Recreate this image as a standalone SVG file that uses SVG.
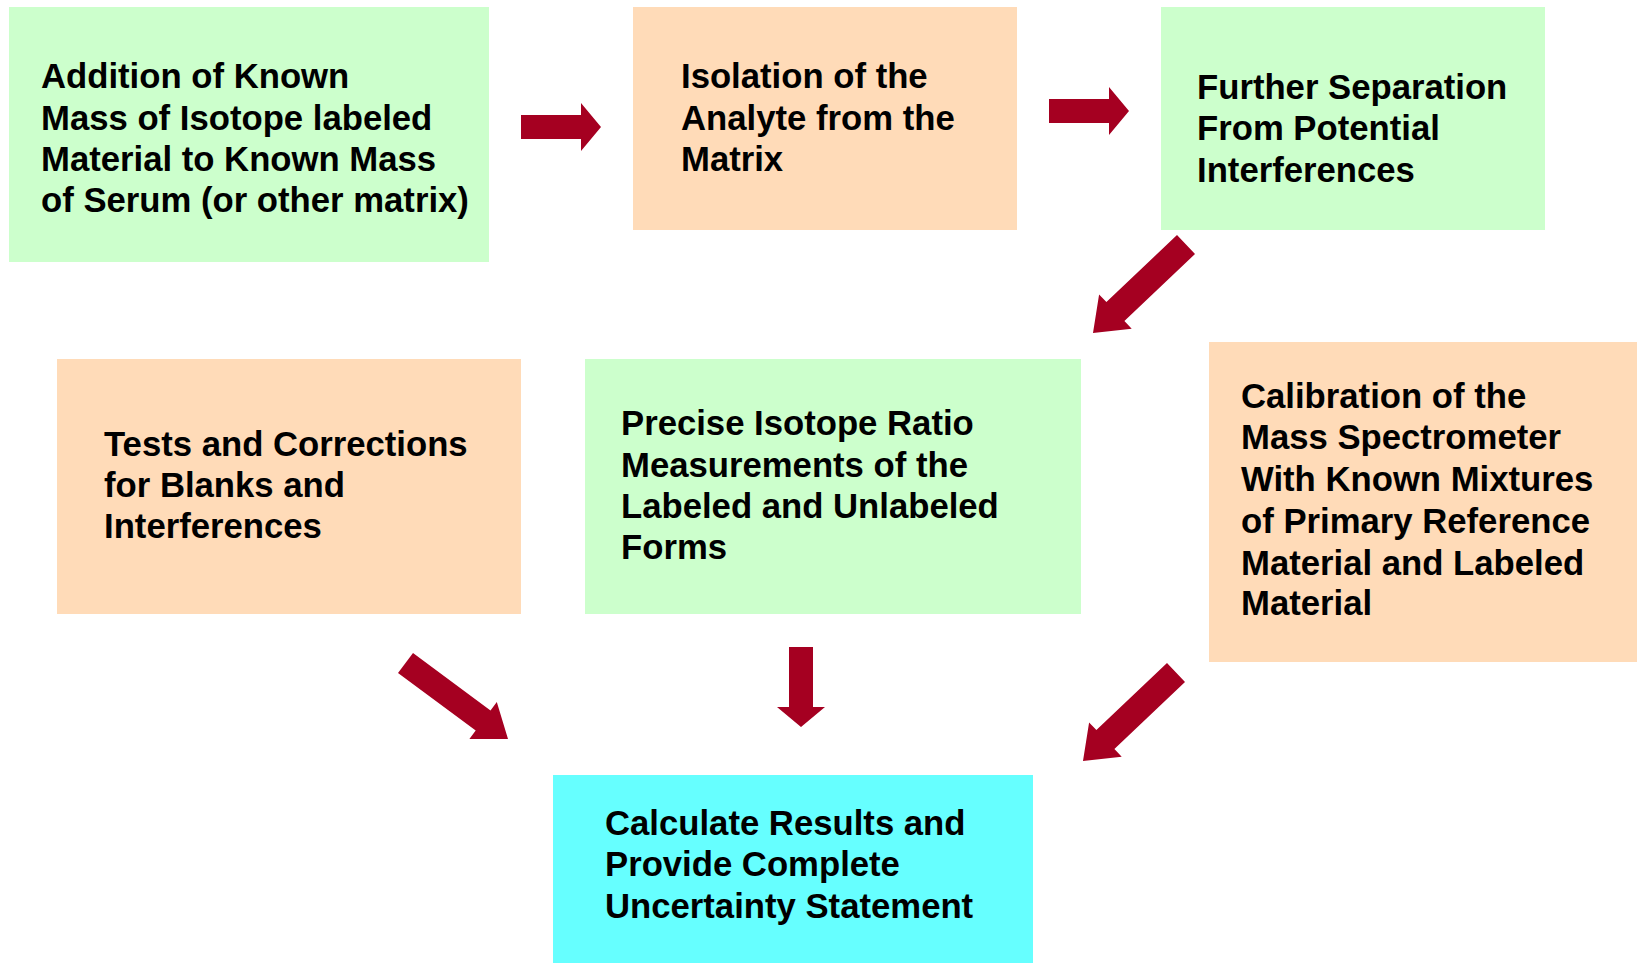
<svg xmlns="http://www.w3.org/2000/svg" width="1637" height="963" viewBox="0 0 1637 963">
<style>
.green{fill:#CCFFCC}
.peach{fill:#FFDBB8}
.cyan{fill:#66FFFF}
.t{font-family:"Liberation Sans",Arial,sans-serif;font-weight:bold;font-size:34.7px;fill:#000}
.arrow{fill:#A50021}
</style>
<rect width="1637" height="963" fill="#FFFFFF"/>
<g id="node-addition">
<rect class="green" x="9" y="7" width="480" height="255"/>
<text class="t"><tspan x="41" y="88">Addition of Known</tspan><tspan x="41" y="130">Mass of Isotope labeled</tspan><tspan x="41" y="171">Material to Known Mass</tspan><tspan x="41" y="212">of Serum (or other matrix)</tspan></text>
</g>
<g id="node-isolation">
<rect class="peach" x="633" y="7" width="384" height="223"/>
<text class="t"><tspan x="681" y="88">Isolation of the</tspan><tspan x="681" y="130">Analyte from the</tspan><tspan x="681" y="171">Matrix</tspan></text>
</g>
<g id="node-separation">
<rect class="green" x="1161" y="7" width="384" height="223"/>
<text class="t"><tspan x="1197" y="99">Further Separation</tspan><tspan x="1197" y="140">From Potential</tspan><tspan x="1197" y="182">Interferences</tspan></text>
</g>
<g id="node-tests">
<rect class="peach" x="57" y="359" width="464" height="255"/>
<text class="t"><tspan x="104" y="456">Tests and Corrections</tspan><tspan x="104" y="497">for Blanks and</tspan><tspan x="104" y="538">Interferences</tspan></text>
</g>
<g id="node-precise">
<rect class="green" x="585" y="359" width="496" height="255"/>
<text class="t"><tspan x="621" y="435">Precise Isotope Ratio</tspan><tspan x="621" y="477">Measurements of the</tspan><tspan x="621" y="518">Labeled and Unlabeled</tspan><tspan x="621" y="559">Forms</tspan></text>
</g>
<g id="node-calibration">
<rect class="peach" x="1209" y="342" width="428" height="320"/>
<text class="t"><tspan x="1241" y="408">Calibration of the</tspan><tspan x="1241" y="449">Mass Spectrometer</tspan><tspan x="1241" y="491">With Known Mixtures</tspan><tspan x="1241" y="533">of Primary Reference</tspan><tspan x="1241" y="575">Material and Labeled</tspan><tspan x="1241" y="615">Material</tspan></text>
</g>
<g id="node-calculate">
<rect class="cyan" x="553" y="775" width="480" height="188"/>
<text class="t"><tspan x="605" y="835">Calculate Results and</tspan><tspan x="605" y="876">Provide Complete</tspan><tspan x="605" y="918">Uncertainty Statement</tspan></text>
</g>
<g id="connectors">
<polygon class="arrow" points="521,115 581,115 581,103 601,127 581,151 581,139 521,139"/>
<polygon class="arrow" points="1049,99 1109,99 1109,87 1129,111 1109,135 1109,123 1049,123"/>
<polygon class="arrow" points="1177,235 1195,254 1124.4,321.1 1131.7,328.8 1093,333 1099.1,294.4 1106.4,302.1"/>
<polygon class="arrow" points="413,653 490.5,710.5 496.8,702 508,739 469.4,739 475.7,730.5 398,673"/>
<polygon class="arrow" points="789,647 813,647 813,707 825,707 801,727 777,707 789,707"/>
<polygon class="arrow" transform="translate(-10,428)" points="1177,235 1195,254 1124.4,321.1 1131.7,328.8 1093,333 1099.1,294.4 1106.4,302.1"/>
</g>
</svg>
